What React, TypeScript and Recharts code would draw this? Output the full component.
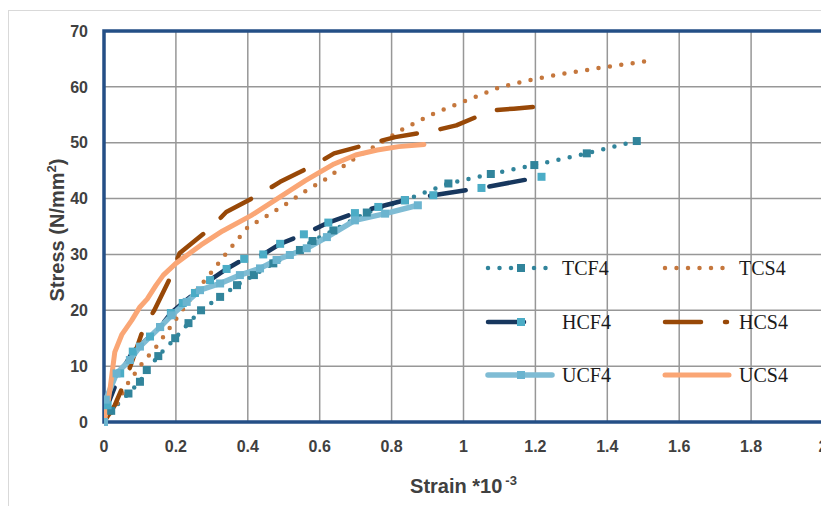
import React from 'react'
import { LineChart, Line, XAxis, YAxis, CartesianGrid, ReferenceArea, Legend } from 'recharts'

// strain (*10^-3) / stress (N/mm2) readings for each specimen
const tcf4Strain = [0, 0.02, 0.068, 0.1, 0.119, 0.151, 0.198, 0.235, 0.27, 0.323, 0.37, 0.417, 0.471, 0.545, 0.58, 0.638, 0.731, 0.837, 0.958, 1.076, 1.197, 1.343, 1.482]
const tcf4Stress = [0, 2, 5.1, 7.2, 9.3, 11.8, 15, 17.7, 20, 22.4, 24.5, 26.3, 28.4, 30.8, 32.4, 34.3, 37.5, 39.7, 42.7, 44.4, 46, 48.1, 50.3]

const tcs4Strain = [0, 0.03, 0.067, 0.105, 0.147, 0.2, 0.258, 0.3, 0.34, 0.4, 0.456, 0.508, 0.564, 0.62, 0.67, 0.72, 0.78, 0.83, 0.92, 1.01, 1.1, 1.19, 1.29, 1.38, 1.51]
const tcs4Stress = [0, 2.5, 7, 10.4, 13.6, 18.4, 23.6, 26.9, 30.2, 34.9, 37, 39.1, 41.5, 43.6, 46, 48.1, 50.4, 52.4, 55.3, 57.6, 59.9, 61.3, 62.5, 63.4, 64.6]

const hcf4Strain = [0, 0.01, 0.045, 0.08, 0.128, 0.156, 0.186, 0.219, 0.253, 0.295, 0.341, 0.39, 0.443, 0.49, 0.556, 0.624, 0.698, 0.763, 0.837, 0.916, 1.05, 1.217]
const hcf4Stress = [0, 3, 8.7, 12.6, 15.3, 17, 19.5, 21.3, 23.1, 25.4, 27.4, 29.2, 30, 31.9, 33.6, 35.7, 37.4, 38.5, 39.7, 40.6, 41.9, 43.9]

const hcs4Strain = [0, 0.03, 0.06, 0.086, 0.11, 0.14, 0.19, 0.2, 0.21, 0.3, 0.34, 0.44, 0.49, 0.59, 0.64, 0.75, 0.81, 0.92, 0.98, 1.08, 1.14, 1.23]
const hcs4Stress = [0, 3, 7.5, 12.3, 16.8, 20, 26.6, 28.5, 30.2, 34.9, 37.6, 41, 43, 46.2, 48.1, 50, 51, 52.2, 53.1, 55.8, 56.1, 56.6]

const ucf4Strain = [0, 0.005, 0.035, 0.072, 0.1, 0.156, 0.188, 0.23, 0.267, 0.323, 0.378, 0.434, 0.48, 0.517, 0.564, 0.62, 0.698, 0.782, 0.873]
const ucf4Stress = [0, 4, 8.7, 11.1, 13.5, 17, 19.1, 21.5, 23.6, 24.8, 26.3, 27.5, 29, 29.9, 31.1, 33.1, 36.1, 37.3, 38.8]

const ucs4Strain = [0, 0.01, 0.017, 0.03, 0.05, 0.077, 0.1, 0.12, 0.145, 0.165, 0.2, 0.27, 0.33, 0.41, 0.49, 0.56, 0.64, 0.7, 0.76, 0.82, 0.89]
const ucs4Stress = [0, 3, 6, 12.5, 15.7, 18.2, 20.6, 22, 24.5, 26.3, 28.4, 31.7, 34.2, 37, 40.3, 43.2, 46.2, 47.8, 48.7, 49.3, 49.7]

const xTicks = [0, 0.2, 0.4, 0.6, 0.8, 1, 1.2, 1.4, 1.6, 1.8, 2]
const yTicks = [0, 10, 20, 30, 40, 50, 60, 70]

const toPoints = (xs: number[], ys: number[]) => xs.map((x, i) => ({ x, y: ys[i] }))

const DOTTED = '0 11.5'
const LONG_DASH = '36 24'

type Series = {
  name: string
  data: { x: number; y: number }[]
  color: string
  width: number
  dash?: string
  marker?: string
  sampleLen: number
}

const series: Series[] = [
  { name: 'TCF4', data: toPoints(tcf4Strain, tcf4Stress), color: '#31849B', width: 4.5, dash: DOTTED, marker: '#31849B', sampleLen: 60 },
  { name: 'TCS4', data: toPoints(tcs4Strain, tcs4Stress), color: '#C5773D', width: 4.5, dash: DOTTED, sampleLen: 58 },
  { name: 'HCF4', data: toPoints(hcf4Strain, hcf4Stress), color: '#17375E', width: 4.5, dash: LONG_DASH, marker: '#4BACC6', sampleLen: 40 },
  { name: 'HCS4', data: toPoints(hcs4Strain, hcs4Stress), color: '#984807', width: 4.5, dash: LONG_DASH, sampleLen: 62 },
  { name: 'UCF4', data: toPoints(ucf4Strain, ucf4Stress), color: '#7FBCD4', width: 5.5, marker: '#6BB4CF', sampleLen: 64 },
  { name: 'UCS4', data: toPoints(ucs4Strain, ucs4Stress), color: '#FAA675', width: 5, sampleLen: 64 },
]

const squareDot = (fill: string, size: number) => (props: any) => {
  const { cx, cy, index } = props
  if (cx == null || cy == null) return <g key={`e-${index}`} />
  return <rect key={`sq-${index}`} x={cx - size / 2} y={cy - size / 2} width={size} height={size} fill={fill} />
}

const tickStyle = { fontSize: 16, fontWeight: 700, fill: '#404040', fontFamily: '"Liberation Sans", Arial, sans-serif' }

function XTitle({ viewBox }: any) {
  const cx = viewBox.x + viewBox.width / 2
  return (
    <text x={cx} y={viewBox.y + 71} textAnchor="middle" fontSize={20} fontWeight={700} fill="#404040"
      fontFamily='"Liberation Sans", Arial, sans-serif'>
      Strain *10
      <tspan dx={3} dy={-8} fontSize={13}>-3</tspan>
    </text>
  )
}

function YTitle() {
  return (
    <text x={0} y={0} transform="translate(49 222) rotate(-90)" textAnchor="middle" dy="0.35em"
      fontSize={20} fontWeight={700} fill="#404040" fontFamily='"Liberation Sans", Arial, sans-serif'>
      Stress (N/mm
      <tspan dy={-8} fontSize={13}>2</tspan>
      <tspan dy={8}>)</tspan>
    </text>
  )
}

// 2 x 3 legend laid over the plot area
function LegendBox() {
  const rows = [15, 69, 122]
  const cols = [2, 179]
  const textX = [76, 253]
  return (
    <svg width={340} height={145} style={{ overflow: 'visible' }}>
      {series.map((s, i) => {
        const cy = rows[Math.floor(i / 2)]
        const x0 = cols[i % 2]
        return (
          <g key={s.name}>
            <line x1={x0} y1={cy} x2={x0 + s.sampleLen} y2={cy} stroke={s.color} strokeWidth={s.width}
              strokeDasharray={s.dash} strokeLinecap="round" />
            {s.marker && <rect x={x0 + 29} y={cy - 4} width={8} height={8} fill={s.marker} />}
            <text x={textX[i % 2]} y={cy + 7} fontSize={20} fill="#1a1a1a"
              fontFamily='"Liberation Serif", "Times New Roman", serif'>{s.name}</text>
          </g>
        )
      })}
    </svg>
  )
}

export default function App() {
  return (
    <div style={{ position: 'relative', width: 821, height: 498, overflow: 'hidden' }}>
      <div style={{ position: 'absolute', left: 0, top: 2, width: 821, height: 496, boxSizing: 'border-box', borderLeft: '1px solid #d9d9d9', borderTop: '1px solid #d9d9d9' }} />
      <LineChart width={821} height={490} margin={{ top: 23, right: 6, bottom: 46, left: 36 }}
        style={{ position: 'absolute', left: 0, top: 0 }}>
        <CartesianGrid stroke="#979797" strokeWidth={1.5} />
        <XAxis dataKey="x" type="number" domain={[0, 2]} ticks={xTicks} tickFormatter={(v) => String(v)}
          axisLine={false} tickLine={false} tickSize={0} tickMargin={19} tick={tickStyle} height={30}
          allowDataOverflow label={<XTitle />} />
        <YAxis type="number" domain={[0, 70]} ticks={yTicks} axisLine={false} tickLine={false} tickSize={0}
          tickMargin={16} tick={tickStyle} width={60} label={<YTitle />} />
        <ReferenceArea x1={0} x2={2} y1={0} y2={70} fill="none" fillOpacity={0} stroke="#244F86" strokeWidth={3.5} ifOverflow="visible" />
        {series.map((s) => (
          <Line key={s.name} name={s.name} data={s.data} dataKey="y" type="linear" stroke={s.color}
            strokeWidth={s.width} strokeDasharray={s.dash} strokeLinecap="round" strokeLinejoin="round"
            dot={s.marker ? squareDot(s.marker, 8) : false} activeDot={false} isAnimationActive={false} />
        ))}
        <Legend content={<LegendBox />} verticalAlign="middle" align="center" layout="horizontal"
          wrapperStyle={{ left: 478, top: 245, width: 340, height: 145 }} />
      </LineChart>
    </div>
  )
}
